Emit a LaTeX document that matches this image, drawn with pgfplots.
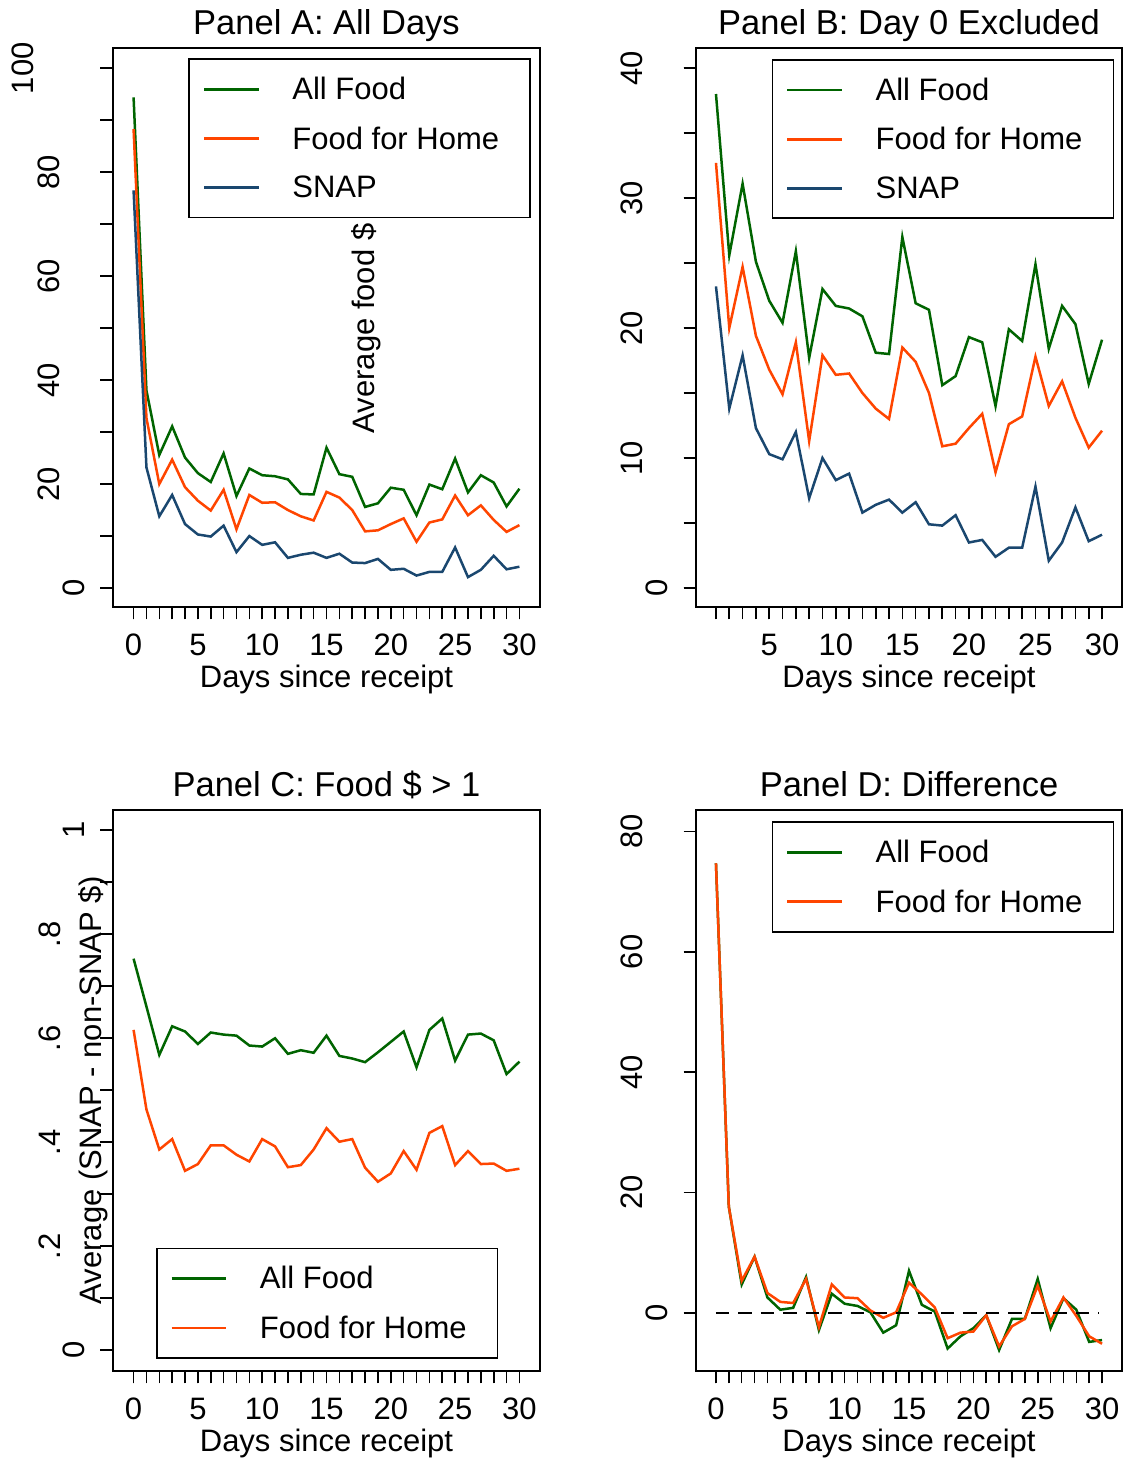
\documentclass[border=0pt]{standalone}
\usepackage{fontspec}
\setmainfont{Liberation Sans}
\usepackage{pgfplots}
\usepackage{pgfplotstable}
\pgfplotsset{compat=1.18}
\definecolor{sgreen}{RGB}{0,100,0}
\definecolor{sorange}{RGB}{255,69,0}
\definecolor{snavy}{RGB}{26,71,111}
\newcommand{\lab}{\fontsize{31pt}{37pt}\selectfont}
\newcommand{\ttl}{\fontsize{34.5pt}{40pt}\selectfont}

\pgfplotstableread{
day all home snap
0 94.4 88.3 76.5
1 38.0 32.7 23.2
2 25.6 20.0 13.8
3 31.1 24.7 17.9
4 25.1 19.4 12.3
5 22.1 16.8 10.3
6 20.4 14.9 9.9
7 25.9 18.9 12.0
8 17.7 11.3 6.9
9 23.0 17.9 10.0
10 21.7 16.4 8.3
11 21.5 16.5 8.8
12 20.9 15.0 5.8
13 18.1 13.8 6.4
14 18.0 13.0 6.8
15 27.0 18.5 5.8
16 21.9 17.4 6.6
17 21.4 15.0 4.9
18 15.6 10.9 4.8
19 16.3 11.1 5.6
20 19.3 12.3 3.5
21 18.9 13.4 3.7
22 14.0 8.9 2.4
23 19.9 12.6 3.1
24 19.0 13.2 3.1
25 24.9 17.8 7.8
26 18.4 14.0 2.1
27 21.7 15.9 3.5
28 20.3 13.1 6.2
29 15.7 10.8 3.6
30 19.1 12.1 4.1
}\datAB

\pgfplotstableread{
day all home
0 0.753 0.616
1 0.661 0.463
2 0.568 0.386
3 0.623 0.406
4 0.613 0.345
5 0.589 0.358
6 0.611 0.394
7 0.607 0.394
8 0.605 0.376
9 0.586 0.363
10 0.584 0.406
11 0.600 0.392
12 0.570 0.352
13 0.577 0.356
14 0.572 0.386
15 0.605 0.427
16 0.566 0.401
17 0.561 0.406
18 0.554 0.351
19 0.573 0.324
20 0.593 0.340
21 0.613 0.383
22 0.544 0.347
23 0.616 0.418
24 0.638 0.431
25 0.557 0.356
26 0.607 0.383
27 0.609 0.358
28 0.596 0.359
29 0.531 0.345
30 0.555 0.349
}\datC

\pgfplotstableread{
day all home
0 74.7 74.7
1 17.65 17.65
2 4.74 5.35
3 9.35 9.35
4 2.58 3.32
5 0.55 1.85
6 0.86 1.66
7 5.97 5.66
8 -2.83 -2.34
9 3.20 4.74
10 1.54 2.58
11 1.17 2.46
12 0.12 0.43
13 -3.26 -0.80
14 -2.03 0.12
15 7.01 5.04
16 1.35 3.08
17 0.25 0.92
18 -5.90 -4.18
19 -3.87 -3.26
20 -2.52 -3.08
21 -0.37 -0.37
22 -6.15 -5.54
23 -0.98 -2.21
24 -0.98 -0.98
25 5.66 4.55
26 -2.52 -1.41
27 2.46 2.58
28 0.55 -0.49
29 -4.80 -3.87
30 -4.49 -5.10
}\datD

\tikzset{ylab/.style={rotate=90, font=\lab, inner sep=0pt}}

\pgfplotsset{
  panel/.style={
    scale only axis,
    axis line style={line width=1.6pt},
    every tick/.style={black, line width=1.6pt},
    tick align=outside,
    major tick length=12.5pt,
    minor tick length=12.5pt,
    xtick pos=left, ytick pos=left,
    clip=false,
    /pgf/number format/assume math mode=true,
    tick label style={font=\lab},
    xticklabel style={anchor=base, yshift=-36.5pt, inner sep=0pt},
    yticklabels={},
    title style={font=\ttl, at={(0.5,1)}, anchor=base, yshift=7.5pt, inner sep=0pt},
    xlabel style={font=\lab, at={(0.5,0)}, anchor=base, yshift=-81pt, inner sep=0pt},
    legend style={font=\lab, draw=black, line width=1.6pt, inner xsep=13.5pt, inner ysep=18pt,
      row sep=25.5pt, nodes={inner sep=0pt},
      /tikz/every odd column/.append style={column sep=32.4pt}},
    legend cell align=left,
    legend image code/.code={\draw[#1, line width=2.6pt] (0pt,0pt) -- (54.6pt,0pt);},
    every axis plot/.append style={line width=2.5pt, mark=none},
    xlabel={Days since receipt},
  },
}

\begin{document}
\begin{tikzpicture}
\useasboundingbox (0,0) rectangle (1127pt,1458pt);

% Panel A
\begin{axis}[panel, at={(113pt,851pt)}, anchor=south west, width=427pt, height=559pt,
  xmin=-1.6, xmax=31.6, ymin=-3.65, ymax=103.9,
  xtick={0,5,...,30}, minor xtick={0,...,30},
  ytick={0,20,...,100}, minor ytick={0,10,...,100},
  title={Panel A: All Days},
  legend style={at={(0.1768,0.9812)}, anchor=north west}]
\addplot[sgreen] table[x=day,y=all] {\datAB};
\addlegendentry{All Food}
\addplot[sorange] table[x=day,y=home] {\datAB};
\addlegendentry{Food for Home\hspace*{17.5pt}}
\addplot[snavy] table[x=day,y=snap] {\datAB};
\addlegendentry{SNAP}
\node[ylab] at (axis cs:-4.61,0) {0};
\node[ylab] at (axis cs:-6.56,20) {20};
\node[ylab] at (axis cs:-6.56,40) {40};
\node[ylab] at (axis cs:-6.56,60) {60};
\node[ylab] at (axis cs:-6.56,80) {80};
\node[ylab] at (axis cs:-8.62,100) {100};
\end{axis}

% Panel B
\begin{axis}[panel, at={(696pt,851pt)}, anchor=south west, width=426pt, height=559pt,
  xmin=-0.5, xmax=31.5, ymin=-1.46, ymax=41.54,
  xtick={5,10,...,30}, minor xtick={1,...,30},
  ytick={0,10,...,40}, minor ytick={0,5,...,40},
  title={Panel B: Day 0 Excluded},
  legend style={at={(0.1777,0.980)}, anchor=north west}]
\addplot[sgreen, skip coords between index={0}{1}] table[x=day,y=all] {\datAB};
\addlegendentry{All Food}
\addplot[sorange, skip coords between index={0}{1}] table[x=day,y=home] {\datAB};
\addlegendentry{Food for Home\hspace*{17.5pt}}
\addplot[snavy, skip coords between index={0}{1}] table[x=day,y=snap] {\datAB};
\addlegendentry{SNAP}
\node[ylab] at (axis cs:-3.43,0) {0};
\node[ylab] at (axis cs:-5.31,10) {10};
\node[ylab] at (axis cs:-5.31,20) {20};
\node[ylab] at (axis cs:-5.31,30) {30};
\node[ylab] at (axis cs:-5.31,40) {40};
\end{axis}

% Panel C
\begin{axis}[panel, at={(113pt,87pt)}, anchor=south west, width=427pt, height=561pt,
  xmin=-1.6, xmax=31.6, ymin=-0.040, ymax=1.039,
  xtick={0,5,...,30}, minor xtick={0,...,30},
  ytick={0,0.2,0.4,0.6,0.8,1}, minor ytick={0,0.1,...,1.01},
  title={Panel C: Food \$ > 1},
  legend style={at={(0.1007,0.0221)}, anchor=south west}]
\addplot[sgreen] table[x=day,y=all] {\datC};
\addlegendentry{All Food}
\addplot[sorange] table[x=day,y=home] {\datC};
\addlegendentry{Food for Home\hspace*{17.5pt}}
\node[ylab] at (axis cs:-4.61,0) {0};
\node[ylab] at (axis cs:-6.52,0.2) {.2};
\node[ylab] at (axis cs:-6.52,0.4) {.4};
\node[ylab] at (axis cs:-6.52,0.6) {.6};
\node[ylab] at (axis cs:-6.52,0.8) {.8};
\node[ylab] at (axis cs:-4.61,1) {1};
\end{axis}

% Panel D
\begin{axis}[panel, at={(696pt,87pt)}, anchor=south west, width=426pt, height=561pt,
  xmin=-1.55, xmax=31.55, ymin=-9.63, ymax=83.55,
  xtick={0,5,...,30}, minor xtick={0,...,30},
  ytick={0,20,...,80},
  title={Panel D: Difference},
  legend style={at={(0.1777,0.9795)}, anchor=north west}]
\addplot[sgreen] table[x=day,y=all] {\datD};
\addlegendentry{All Food}
\addplot[sorange] table[x=day,y=home] {\datD};
\addlegendentry{Food for Home\hspace*{17.5pt}}
\addplot[black, line width=2.8pt, dash pattern=on 13.5pt off 9pt, forget plot] coordinates {(0,0) (29.8,0)};
\node[ylab] at (axis cs:-4.58,0) {0};
\node[ylab] at (axis cs:-6.52,20) {20};
\node[ylab] at (axis cs:-6.52,40) {40};
\node[ylab] at (axis cs:-6.52,60) {60};
\node[ylab] at (axis cs:-6.52,80) {80};
\end{axis}

\node[rotate=90, anchor=base, font=\lab, inner sep=0pt] at (374pt,1129.5pt) {Average food \$};
\node[rotate=90, anchor=base, font=\lab, inner sep=0pt] at (101.5pt,368pt) {Average (SNAP - non-SNAP \$)};
\end{tikzpicture}
\end{document}
